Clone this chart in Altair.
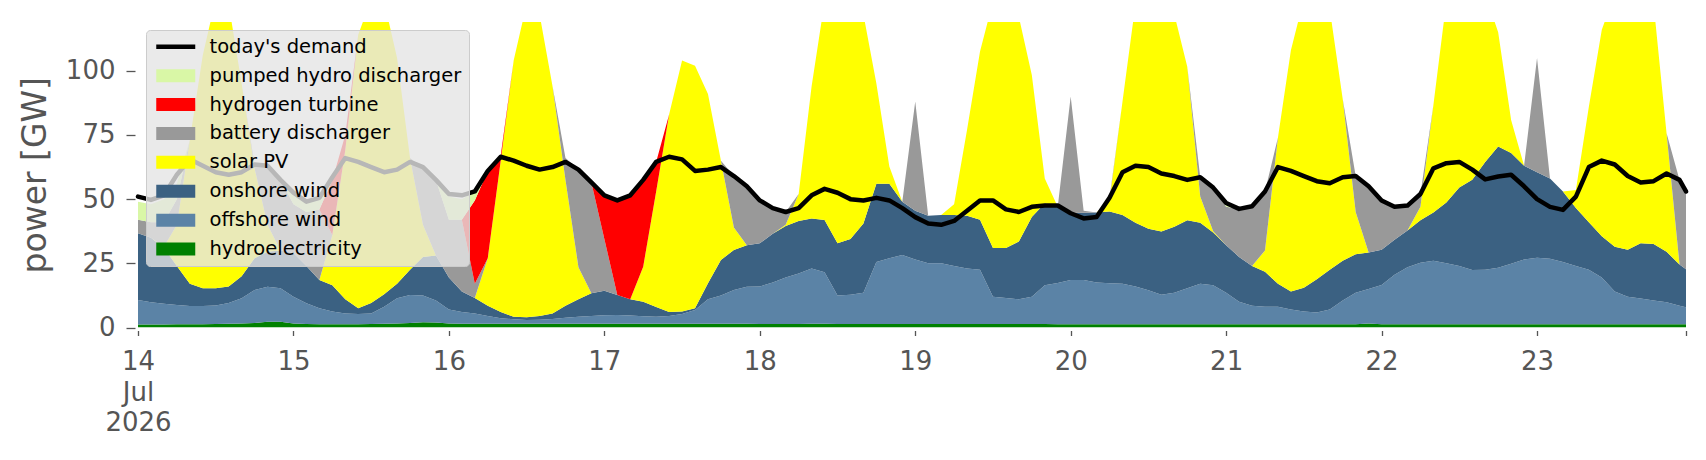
import altair as alt
import pandas as pd

# hours after 14 Jul 2026 00:00 (UTC), two-hourly samples plus the last hour
hours = list(range(0, 240, 2)) + [239]

hydro = [1.2,1.2,1.2,1.3,1.3,1.3,1.4,1.5,1.6,1.8,2.2,2.2,
         1.6,1.4,1.3,1.3,1.3,1.3,1.4,1.5,1.6,1.8,2.0,1.9,
         1.6,1.5,1.5,1.5,1.5,1.5,1.5,1.5,1.5,1.5,1.5,1.5,
         1.5,1.5,1.5,1.5,1.5,1.5,1.5,1.5,1.5,1.5,1.5,1.5,
         1.4,1.4,1.4,1.4,1.5,1.5,1.4,1.4,1.4,1.4,1.4,1.4,
         1.4,1.4,1.4,1.4,1.4,1.4,1.4,1.4,1.4,1.4,1.4,1.3,
         1.3,1.3,1.3,1.3,1.3,1.3,1.3,1.3,1.3,1.3,1.3,1.3,
         1.3,1.3,1.3,1.3,1.3,1.3,1.3,1.3,1.3,1.3,1.3,1.6,
         1.3,1.3,1.3,1.3,1.3,1.3,1.3,1.3,1.3,1.3,1.3,1.3,
         1.3,1.3,1.3,1.3,1.3,1.3,1.3,1.3,1.3,1.3,1.3,1.3,1.3]

offshore = [9.5,8.6,8.1,7.5,7.1,7.1,7.2,8.0,9.8,12.8,13.7,13.1,
            10.4,8.0,6.2,4.9,4.2,4.0,4.1,6.6,9.8,10.9,10.5,8.6,
            5.4,4.5,4.0,3.0,2.1,1.7,1.4,1.5,1.8,2.3,2.7,3.0,
            3.3,3.4,3.2,2.9,2.7,3.0,3.8,5.3,9.5,11.0,13.1,14.4,
            14.6,16.1,18.1,19.6,21.5,20.0,11.1,11.4,12.1,24.1,25.6,26.8,
            25.1,23.6,23.6,22.6,21.6,21.1,10.6,10.1,9.6,10.6,15.1,16.0,
            17.2,17.2,16.2,15.9,15.7,14.7,13.2,11.5,12.2,14.0,15.7,15.2,
            12.2,8.7,7.2,6.8,6.8,5.7,4.9,4.5,5.7,9.2,12.2,13.4,
            15.3,19.2,22.2,23.9,24.7,23.7,22.7,21.1,21.2,22.0,23.5,25.2,
            25.9,25.5,24.2,22.7,21.2,18.2,12.7,10.7,10.0,9.2,8.5,7.2,6.6]

onshore = [26.0,25.2,21.7,15.2,8.6,6.9,6.7,6.5,8.6,12.4,13.6,14.7,
           17.0,14.6,11.0,10.3,5.5,2.2,4.0,4.9,5.6,9.8,15.0,17.5,
           12.5,8.0,6.0,4.0,2.4,1.0,1.1,1.5,2.2,4.7,6.8,8.8,
           9.5,7.8,6.3,5.6,3.8,1.5,0.9,0.7,6.2,13.8,15.6,16.1,
           16.8,19.0,20.0,20.5,19.5,20.4,20.3,21.7,27.0,30.5,29.0,20.8,
           19.0,18.5,18.8,19.8,20.5,19.5,19.0,19.5,22.5,31.0,31.9,29.7,
           26.1,26.2,27.3,28.0,26.8,24.8,24.0,24.6,25.7,26.5,23.8,20.5,
           18.5,17.5,15.5,13.6,8.9,7.0,9.3,13.0,15.5,15.5,15.0,14.2,
           13.7,13.7,14.3,16.6,18.8,23.7,30.5,35.2,42.0,47.2,43.2,36.5,
           33.3,31.2,27.5,22.5,18.5,16.0,17.5,18.3,21.5,22.0,19.7,16.0,14.8]

solar = [0,0,0.5,16.0,56.0,90.7,112.7,110.0,75.0,35.0,10.5,0,
         0,0,0,19.5,58.0,106.5,118.5,114.0,88.0,43.5,12.5,0,
         0,0,0,18.5,59.0,99.8,122.0,117.5,88.5,49.0,12.5,0,
         0,0,0,13.7,45.0,77.0,97.8,94.5,73.8,38.7,8.8,0,
         0,0,0.5,10.5,51.5,85.0,95.0,93.5,81.5,39.0,6.7,0,
         0,0,0,4.2,33.5,65.5,96.0,97.0,87.5,55.4,9.6,0,
         0,0,0,4.5,44.2,85.2,89.5,90.6,82.8,59.8,10.2,0.5,
         0,0,0,8.3,57.0,94.0,112.5,109.2,101.5,63.0,16.5,0,
         0,0,0,5.2,41.9,78.3,75.5,72.4,65.5,44.5,12.8,0,
         0,0,0,7.1,45.0,80.5,98.5,99.7,97.2,93.5,46.2,0,0]

battery = [5.3,6.0,9.5,10.0,0,0,0,0,0,1.5,23.0,27.5,
           19.0,21.0,27.5,0,0,0,0,0,0,0,22.0,29.5,
           22.5,28.0,5.5,0,0,0,0,0,0,8.5,38.0,43.2,
           20.2,0,0,0,0,0,0,0,0,0,20.0,23.0,
           16.2,9.5,5.0,0,0,0,0,0,0,0,0,0,
           42.5,0,0,0,0,0,0,0,0,0,0,0,
           45.4,0.8,0,0.8,0,0,0,0,0,0,7.5,17.0,
           15.0,18.7,23.2,23.0,0,0,0,0,0,0,14.0,25.8,
           19.2,12.8,9.7,5.0,0,0,0,0,0,0,0,0,
           44.5,0,0,0,0,0,0,0,0,0,0,33.0,30.3]

hydrogen = [0,0,0,0,0,0,0,0,0,0,0,0,
            0,0,0,21.4,6.0,0,0,0,0,0,0,0,
            0,0,32.5,34.0,2.0,0,0,0,0,0,0,0,
            17.0,36.8,40.5,33.8,11.5,0,0,0,0,0,0,0,
            0,0,0,0,0,0,0,0,0,0,0,0,
            0,0,0,0,0,0,0,0,0,0,0,0,
            0,0,0,0,0,0,0,0,0,0,0,0,
            0,0,0,0,0,0,0,0,0,0,0,0,
            0,0,0,0,0,0,0,0,0,0,0,0,
            0,0,0,0,0,0,0,0,0,0,0,0,0]

pumped = [7.0,7.0,9.0,6.0,0,0,0,0,0,0,0,0,
          4.5,4.0,4.5,0,0,0,0,0,0,0,0,0,
          9.0,8.0,3.5,0,0,0,0,0,0,0,0,0,
          0,0,0,0,0,0,0,0,0,0,0,0,
          0,0,0,0,0,0,0,0,0,0,0,0,
          0,0,0,0,0,0,0,0,0,0,0,0,
          0,0,0,0,0,0,0,0,0,0,0,0,
          1.5,0,0,0,0,0,0,0,0,0,0,0,
          0,0,0,0,0,0,0,0,0,0,0,0,
          0,0,0,0,0,0,0,0,0,0,0,0,0]

demand = [51.0,49.7,51.5,59.5,65.5,63.0,60.5,59.5,60.5,63.5,63.0,57.5,
          52.5,49.0,50.5,58.5,66.0,64.5,62.5,60.5,61.5,64.5,62.5,57.5,
          52.0,51.5,53.0,61.0,66.5,65.0,63.0,61.5,62.5,64.5,61.5,56.5,
          51.5,49.5,51.5,57.5,64.5,66.5,65.5,61.0,61.5,62.5,59.0,55.0,
          49.5,46.5,45.0,46.5,51.5,54.0,52.5,50.0,49.5,50.5,49.5,46.5,
          43.0,40.5,40.0,41.5,45.5,49.5,49.5,46.0,45.0,47.0,47.5,47.5,
          44.5,42.5,43.0,50.5,60.5,63.0,62.5,60.0,59.0,57.5,58.5,54.5,
          48.5,46.2,47.2,53.0,62.5,61.0,59.0,57.0,56.2,58.5,59.0,55.0,
          49.5,47.0,47.5,52.0,62.0,64.0,64.5,61.5,57.7,58.8,59.5,55.0,
          50.0,47.0,45.8,51.0,62.5,65.0,63.5,59.0,56.5,57.0,60.0,57.5,53.0]

stack_names = ["hydroelectricity", "offshore wind", "onshore wind", "solar PV",
               "battery discharger", "hydrogen turbine", "pumped hydro discharger"]
stack_series = [hydro, offshore, onshore, solar, battery, hydrogen, pumped]

legend_order = ["today's demand", "pumped hydro discharger", "hydrogen turbine",
                "battery discharger", "solar PV", "onshore wind", "offshore wind",
                "hydroelectricity"]
legend_colors = ["#000000", "#d9f7a6", "#ff0000", "#999999", "#ffff00",
                 "#3b6182", "#5b83a6", "#008000"]
LINE_SYM = "M-3,-0.35H3V0.35H-3Z"
RECT_SYM = "M-3,-1H3V1H-3Z"
legend_shapes = [LINE_SYM] + [RECT_SYM] * 7

start = pd.Timestamp("2026-07-14T00:00:00")
times = [(start + pd.Timedelta(hours=h)).strftime("%Y-%m-%dT%H:%M:%SZ") for h in hours]

rows = []
for k, (name, vals) in enumerate(zip(stack_names, stack_series)):
    for t, v in zip(times, vals):
        rows.append({"time": t, "tech": name, "value": v, "ord": k})
area_df = pd.DataFrame(rows)
line_df = pd.DataFrame({"time": times, "tech": ["today's demand"] * len(times), "value": demand})

tick_values = [alt.DateTime(year=2026, month=7, date=d, utc=True) for d in range(14, 24)] + \
              [alt.DateTime(year=2026, month=7, date=23, hours=23, utc=True)]

x_enc = alt.X(
    "time:T",
    scale=alt.Scale(type="utc", nice=False,
                    domain=[alt.DateTime(year=2026, month=7, date=14, hours=0, utc=True),
                            alt.DateTime(year=2026, month=7, date=23, hours=23, utc=True)]),
    axis=alt.Axis(
        title=None, values=tick_values, grid=False, domain=False,
        offset=3, tickSize=5, tickColor="#555555", tickWidth=1.3,
        labelPadding=13, labelFontSize=26, labelColor="#555555",
        labelLineHeight=30.5, labelFlush=False, labelOverlap=False, labelBound=False,
        labelExpr=("utchours(datum.value) == 23 ? '' : "
                   "(utcdate(datum.value) == 14 ? [utcFormat(datum.value, '%-d'), "
                   "utcFormat(datum.value, '%b'), utcFormat(datum.value, '%Y')] : "
                   "utcFormat(datum.value, '%-d'))"),
    ),
)

y_scale = alt.Scale(domain=[0, 119], nice=False)
y_axis = alt.Axis(
    title="power [GW]", values=[0, 25, 50, 75, 100], grid=False, domain=False,
    offset=3, tickSize=9, tickColor="#555555", tickWidth=1.3,
    labelPadding=11, labelFontSize=26, labelColor="#555555",
    titleFontSize=33, titleColor="#555555", titleFontWeight="normal",
    titleX=-89.5, titleY=152.75, titleBaseline="alphabetic",
)

legend = alt.Legend(
    title=None, orient="top-left", offset=8, padding=7, zindex=1,
    fillColor="rgba(229,229,229,0.8)", strokeColor="#cccccc", cornerRadius=4,
    labelFontSize=19.5, labelColor="#000000", labelLimit=500,
    rowPadding=7.9, symbolOffset=13, labelOffset=24, symbolSize=169,
    symbolStrokeWidth=0, symbolOpacity=1,
)

color_scale = alt.Scale(domain=legend_order, range=legend_colors)
shape_scale = alt.Scale(domain=legend_order, range=legend_shapes)

areas = alt.Chart(area_df).mark_area(clip=True, interpolate="linear").encode(
    x=x_enc,
    y=alt.Y("value:Q", stack="zero", scale=y_scale, axis=y_axis),
    color=alt.Color("tech:N", scale=color_scale, legend=legend),
    order=alt.Order("ord:Q", sort="ascending"),
)

line = alt.Chart(line_df).mark_line(strokeWidth=4.5, strokeJoin="round", strokeCap="round").encode(
    x=x_enc,
    y=alt.Y("value:Q", stack=False, scale=y_scale, axis=y_axis),
    color=alt.Color("tech:N", scale=color_scale, legend=legend),
)

# empty layer that only supplies per-entry legend symbols (line vs. patch)
keys = alt.Chart(line_df).transform_filter("false").mark_point(filled=True, size=169, opacity=1).encode(
    x=x_enc,
    y=alt.Y("value:Q", stack=False, scale=y_scale, axis=y_axis),
    color=alt.Color("tech:N", scale=color_scale, legend=legend),
    shape=alt.Shape("tech:N", scale=shape_scale, legend=legend),
)

chart = alt.layer(areas, line, keys).properties(
    width=1548, height=305.5,
    autosize=alt.AutoSizeParams(type="none"),
    padding={"left": 130, "top": 14, "right": 5, "bottom": 110},
).configure(font="DejaVu Sans").configure_view(stroke=None)

chart.save("out.html", embed_options={"renderer": "svg", "actions": False})
